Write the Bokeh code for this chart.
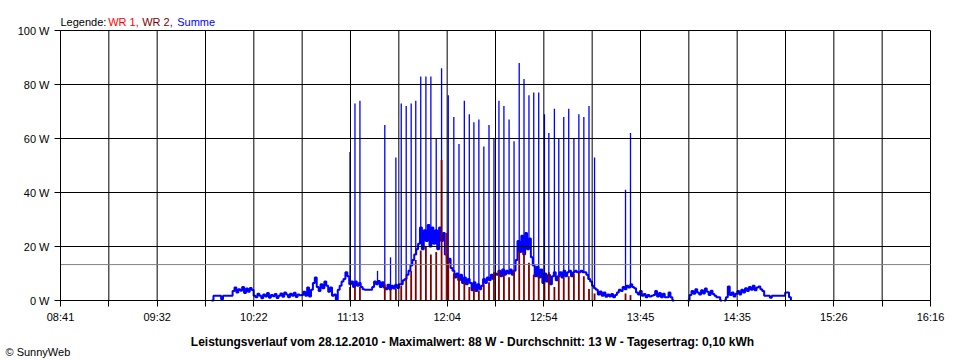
from bokeh.plotting import figure
from bokeh.models import FixedTicker, Label, Range1d
from bokeh.embed import file_html
from bokeh.resources import INLINE

# ---------------- data (time in minutes after midnight, power in W) ----------------
T_START, T_END = 521.0, 976.0          # 08:41 ... 16:16
time_labels = ["08:41", "09:32", "10:22", "11:13", "12:04",
               "12:54", "13:45", "14:35", "15:26", "16:16"]
power_ticks = [0, 20, 40, 60, 80, 100]
average_w = 13.3                       # "Durchschnitt: 13 W"

# Summe, one reading per minute starting at summe_t0 (None = no data)
summe_t0 = 600
summe_w = (
    [0]
    + [1.8, 1.8, 1.8, 1.8, 0.5, 1.8, 1.8, 1.8, 1.8, 1.8]                          # 10:01
    + [3.5, 4.8, 3.0, 4.2, 3.6, 5.0, 2.8, 4.4, 3.2, 4.6, 3.9]                     # 10:11
    + [1.8, 1.2, 2.5, 1.8, 0.8, 2.2, 1.5, 2.8, 1.0, 2.0, 1.6, 2.4, 0.9, 1.8, 2.6,
       1.4, 3.0, 2.2, 1.2, 2.5, 1.8, 2.9, 1.3, 2.2, 1.9]                          # 10:22
    + [2.0, 3.2, 1.8, 4.8, 1.5]                                                   # 10:47
    + [4.0, 6.5, 8.5, 5.0, 3.5, 6.0, 4.5, 7.0, 5.5, 3.2, 4.8]                     # 10:52
    + [1.8, 2.2, 0.4]                                                             # 11:03
    + [4.0, 5.5, 7.0, 8.0, 10.5]                                                  # 11:06
    + [9.0, 6.0, 7.0, 5.0, 7.0, 5.5, 6.5]                                         # 11:11
    + [5.0, 4.2, 4.0, 4.0, 4.0, 4.0]                                              # 11:18
    + [5.0, 7.0, 6.0, 7.2, 5.0, 6.8, 4.8]                                         # 11:24
    + [4.2, 5.8, 4.2, 5.5, 4.4, 5.8, 4.6, 6.0]                                    # 11:31
    + [6.0, 7.5, 8.0, 9.5, 11, 13, 15, 17, 19]                                    # 11:39
    + [21, 27, 19, 26, 22, 28, 20, 27, 21, 26, 19, 27, 22, 25]                    # 11:48
    + [17, 14, 15.5, 12]                                                          # 12:02
    + [11, 8.5, 10, 7.5, 9.5, 6.5, 8.5, 6, 8]                                     # 12:06
    + [6.5, 3.8, 6.8, 3.5, 6.0, 4.2]                                              # 12:15
    + [5.5, 8.0, 6.5, 8.5, 7.5, 9.5, 8.0, 10]                                     # 12:21
    + [9.5, 11, 9.0, 11.5, 9.5, 11, 10, 11.5, 9.5, 11]                            # 12:29
    + [15, 22, 18, 24, 17, 25, 19, 23, 16]                                        # 12:39
    + [13, 9, 12.5, 8.5, 11.5, 6.5, 10]                                           # 12:48
    + [7, 9.5, 6, 9, 10.5, 7.5]                                                   # 12:55
    + [9, 10.5, 8.5, 11, 9, 10.5, 11, 9, 10.5, 11]                                # 13:01
    + [10.5, 10.5, 11, 10.5, 10.5]                                                # 13:11
    + [9.5, 8, 7, 5.5, 4.5]                                                       # 13:16
    + [4.0, 2.2, 3.3, 1.8, 3.0, 1.4, 2.2, 1.5, 2.4, 1.2, 2.0]                     # 13:21
    + [3.0, 4.0, 3.5, 5.0, 4.2, 5.5, 4.8, 6.0, 5.0]                               # 13:32
    + [4.5, 3.0, 2.2, 3.5, 1.8, 2.4, 1.2, 2.0, 1.5, 1.8]                          # 13:41
    + [2.0, 3.5, 1.5, 2.8, 1.2, 2.5, 1.2, 1.2, 3.0, 1.2]                          # 13:51
    + [0, None, None, None, None, None, None, None, 0]                             # 14:01
    + [2.0, 3.5, 2.5, 4.2, 3.0, 2.2, 3.8, 2.6, 4.4, 3.2, 2.0, 3.6, 2.4, 1.8, 1.2, 1.2]  # 14:10
    + [0, None, 0]                                                                # 14:26
    + [1.2, 5.2, 2.0, 3.0, 1.5, 2.5, 3.5, 2.2, 4.0, 3.0, 4.5, 3.5, 5.0, 4.0, 5.5,
       3.8, 4.8, 5.2, 4.2, 3.5]                                                   # 14:29
    + [1.8, 1.8, 1.8, 1.0, 1.8, 1.8, 1.8, 1.8, 1.8, 1.8, 1.8]                     # 14:49
    + [3.0, 3.0, 1.2, 0]                                                          # 15:00
)

# short peaks of Summe (single readings)
spike_t = [672.4, 675.0, 677.6, 686.8, 690.6, 693.6, 696.4, 699.2, 701.8, 704.4,
           706.8, 709.4, 712.1, 714.7, 717.5, 720.3, 723.8, 726.7, 729.4, 732.2,
           734.8, 737.2, 739.8, 742.4, 745.1, 747.7, 750.3, 752.9, 755.6, 758.2,
           760.9, 763.4, 766.0, 768.5, 771.1, 774.1, 776.4, 779.3, 781.6, 784.2,
           786.8, 789.5, 792.1, 794.7, 797.4, 800.3, 816.5, 819.1]
spike_w = [55, 73, 74, 11, 65, 16, 53, 73, 72, 73,
           74, 83, 83, 83, 60, 86, 76, 68, 58, 74,
           69, 66, 67, 57, 65, 60, 74, 72, 67, 59,
           88, 82, 76, 77, 77, 69, 62, 71, 60, 68,
           71, 60, 69, 68, 72, 53, 41, 62]

# WR 2 readings (bars)
wr2_t = [672.4, 675.0, 677.6, 690.6, 693.6, 696.4, 699.2, 701.8, 704.4, 706.8,
         709.4, 712.1, 714.7, 717.5, 720.3, 723.8, 726.7, 729.4, 732.2, 734.8,
         737.2, 739.8, 742.4, 745.1, 747.7, 750.3, 752.9, 755.6, 758.2, 760.9,
         763.4, 766.0, 768.5, 771.1, 774.1, 776.4, 779.3, 781.6, 784.2, 786.8,
         789.5, 792.1, 794.7, 797.4, 800.3, 816.5, 819.1]
wr2_w = [5, 5, 5, 6, 4, 4.3, 5.5, 8, 11, 15,
         18.5, 20, 17, 18, 52, 15, 10, 8.6, 6.8, 5,
         4.7, 3.7, 6, 6.8, 10.5, 11, 9.6, 8.6, 11, 18.5,
         18, 14, 9.6, 9, 6.8, 10.5, 5, 9, 8.6, 9,
         10, 10.5, 9, 4.3, 2.6, 2.6, 2]

# WR 1 readings (bars)
wr1_t = [722.9]
wr1_w = [25]

# ---------------- build the Summe step path ----------------
NAN = float("nan")
base = [(summe_t0 + i, NAN if v is None else float(v)) for i, v in enumerate(summe_w)]


def base_at(t):
    val = NAN
    for bt, bv in base:
        if bt <= t:
            val = bv
        else:
            break
    return val


xs, ys = [], []
for i, (t, v) in enumerate(base):
    xs.append(t)
    ys.append(v)
    if i + 1 < len(base):
        xs.append(base[i + 1][0])
        ys.append(v)
spike_base = [base_at(t) for t in spike_t]

# ---------------- layout: the frame fills the canvas, axes are pinned ----------------
CANVAS_W, CANVAS_H = 960, 360
LEFT, RIGHT, TOP, BOTTOM = 60, 930, 30, 300     # chart area in canvas pixels
min_per_px = (T_END - T_START) / (RIGHT - LEFT)
w_per_px = 100.0 / (BOTTOM - TOP)


def t_at(px):
    return T_START + (px - LEFT) * min_per_px


def w_at(py):
    return (BOTTOM - py) * w_per_px


p = figure(width=CANVAS_W, height=CANVAS_H, output_backend="svg", toolbar_location=None,
           x_range=Range1d(t_at(0), t_at(CANVAS_W)), y_range=Range1d(w_at(CANVAS_H), w_at(0)),
           min_border=0)
p.outline_line_color = None
p.background_fill_color = "white"
p.border_fill_color = "white"
p.xgrid.visible = False
p.ygrid.visible = False

# data
p.line(xs, ys, line_color="#0000FF", line_width=2)
p.segment(x0=spike_t, y0=spike_base, x1=spike_t, y1=spike_w, line_color="#0000FF", line_width=1.3)
p.vbar(x=wr2_t, top=wr2_w, bottom=0, width=0.95, fill_color="#800000", line_color=None)
p.vbar(x=wr1_t, top=wr1_w, bottom=0, width=0.95, fill_color="#FF0000", line_color=None)

# grid lines on top of the data
step = (T_END - T_START) / 9
major = [T_START + k * step for k in range(10)]
minor = [T_START + (k + 0.5) * step for k in range(9)]
vlines = major + minor
p.segment(x0=vlines, y0=[0] * len(vlines), x1=vlines, y1=[100] * len(vlines),
          line_color="black", line_width=1)
p.segment(x0=[T_START] * len(power_ticks), y0=power_ticks, x1=[T_END] * len(power_ticks),
          y1=power_ticks, line_color="black", line_width=1)
p.segment(x0=[T_START], y0=[average_w], x1=[T_END], y1=[average_w],
          line_color="#808080", line_width=1)

# axes
p.xaxis.fixed_location = 0
p.yaxis.fixed_location = T_START
p.xaxis.bounds = (T_START, T_END)
p.yaxis.bounds = (0, 100)
p.xaxis.ticker = FixedTicker(ticks=major, minor_ticks=minor)
p.xaxis.major_label_overrides = {m: lab for m, lab in zip(major, time_labels)}
p.yaxis.ticker = FixedTicker(ticks=power_ticks, minor_ticks=[])
p.yaxis.major_label_overrides = {v: f"{v} W" for v in power_ticks}
for ax in (p.xaxis, p.yaxis):
    ax.axis_line_color = "black"
    ax.axis_line_width = 1
    ax.major_tick_line_color = "black"
    ax.minor_tick_line_color = "black"
    ax.major_tick_in = 0
    ax.major_tick_out = 6
    ax.minor_tick_in = 0
    ax.major_label_text_font = "Liberation Sans"
    ax.major_label_text_font_size = "11px"
    ax.major_label_text_color = "black"
p.xaxis.minor_tick_out = 6
p.yaxis.minor_tick_out = 0
p.xaxis.major_label_standoff = 4
p.yaxis.major_label_standoff = 5

# texts
legend_parts = [("Legende:", "black", 60), ("WR 1,", "#FF0000", 107.7),
                ("WR 2,", "#800000", 141.7), ("Summe", "#0000FF", 176.7)]
for txt, col, px in legend_parts:
    p.add_layout(Label(x=t_at(px), y=w_at(21), text=txt, text_color=col,
                       text_font="Liberation Sans", text_font_size="11px",
                       text_baseline="alphabetic", text_align="left"))

title_text = ("Leistungsverlauf vom 28.12.2010 - Maximalwert: 88 W - "
              "Durchschnitt: 13 W - Tagesertrag: 0,10 kWh")
p.add_layout(Label(x=t_at(472), y=w_at(341.5), text=title_text, text_color="black",
                   text_font="Liberation Sans", text_font_size="12px", text_font_style="bold",
                   text_baseline="alphabetic", text_align="center"))
p.add_layout(Label(x=t_at(5), y=w_at(351.5), text="\u00a9 SunnyWeb", text_color="black",
                   text_font="Liberation Sans", text_font_size="11px",
                   text_baseline="alphabetic", text_align="left"))

open("out.html", "w").write(file_html(p, INLINE))
